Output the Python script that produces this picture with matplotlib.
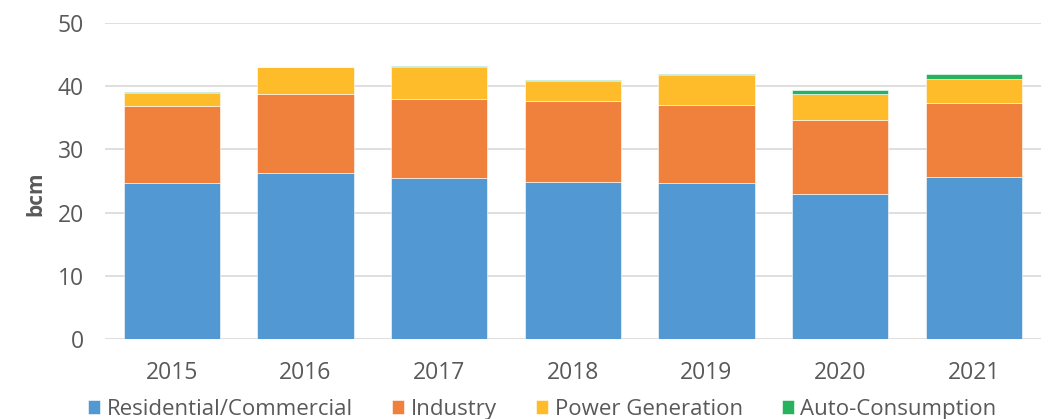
import numpy as np
import matplotlib.pyplot as plt

plt.rcParams['font.family'] = ['Open Sans', 'DejaVu Sans']

years = ['2015', '2016', '2017', '2018', '2019', '2020', '2021']
residential = [24.7, 26.2, 25.4, 24.9, 24.7, 23.0, 25.7]
industry = [12.2, 12.5, 12.5, 12.8, 12.4, 11.7, 11.7]
power = [2.0, 4.3, 5.2, 3.2, 4.6, 4.1, 3.7]
auto = [0.2, 0.1, 0.1, 0.1, 0.25, 0.55, 0.8]

series = [
    ('Residential/Commercial', residential, '#5299D3'),
    ('Industry', industry, '#EF813D'),
    ('Power Generation', power, '#FEBB2A'),
    ('Auto-Consumption', auto, '#27B35E'),
]

fig = plt.figure(figsize=(10.49, 4.19), dpi=100)
ax = fig.add_axes([0.1, 0.191, 0.892, 0.754])

x = np.arange(len(years))
bottom = np.zeros(len(years))
for name, vals, col in series:
    ax.bar(x, vals, 0.72, bottom=bottom, color=col, label=name,
           edgecolor='white', linewidth=0.4, zorder=3)
    bottom += np.array(vals)

ax.set_xlim(-0.5, 6.5)
ax.set_ylim(0, 50)
ax.set_yticks(range(0, 51, 10))
ax.set_xticks(x)
ax.set_xticklabels(years)
ax.grid(axis='y', color='#D9D9D9', linewidth=1.2, zorder=0)
for s in ['top', 'right', 'left', 'bottom']:
    ax.spines[s].set_visible(False)
ax.tick_params(axis='both', length=0, labelsize=16.5, colors='#595959')
ax.tick_params(axis='y', pad=15)
ax.tick_params(axis='x', pad=16)
ax.set_ylabel('bcm', fontsize=15, fontweight='bold', color='#595959')
ax.yaxis.set_label_coords(-0.063, 0.46)

fig.legend(loc='lower center', ncol=4, bbox_to_anchor=(0.517, -0.05), frameon=False,
           fontsize=16, handlelength=0.55, handleheight=0.55, handletextpad=0.3,
           columnspacing=1.75, labelcolor='#595959')

fig.savefig('out.png', dpi=100)
